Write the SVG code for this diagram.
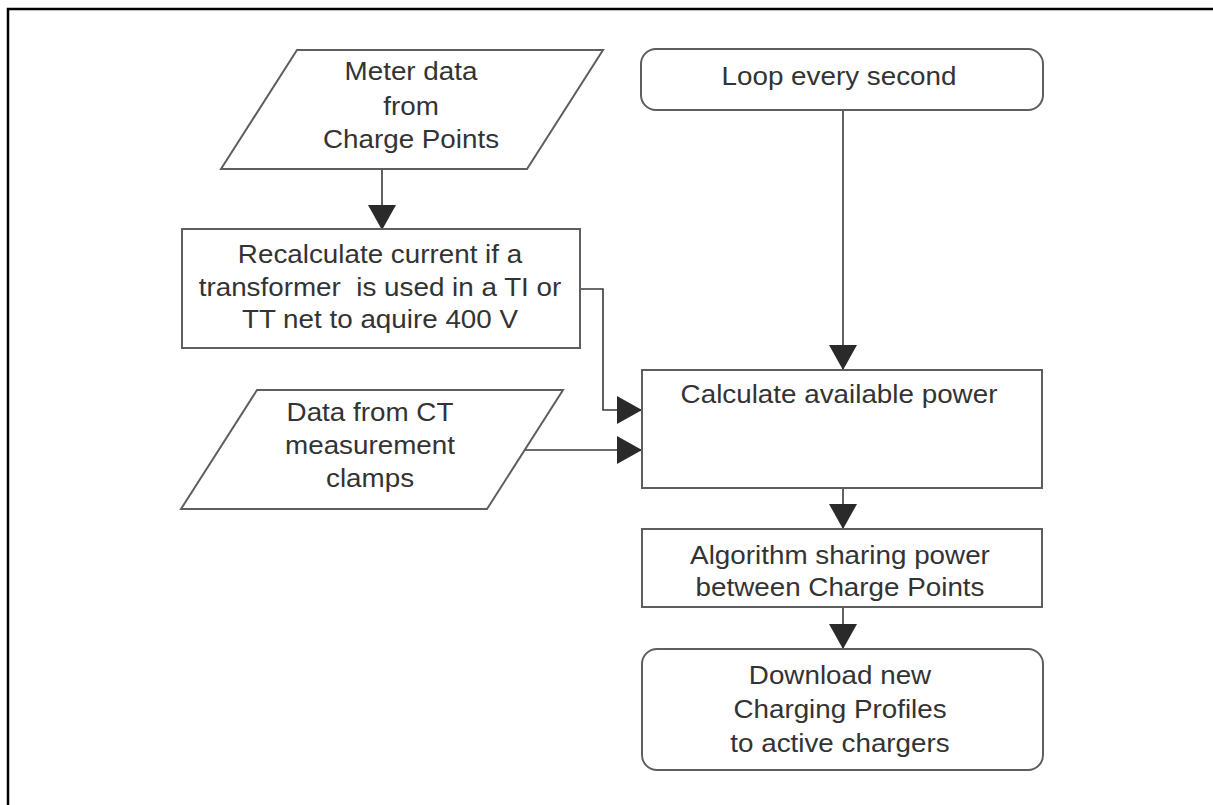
<svg xmlns="http://www.w3.org/2000/svg" width="1213" height="805" viewBox="0 0 1213 805">
  <style>
    .shape { fill: #ffffff; stroke: #5e5e5e; stroke-width: 2; }
    .lbl { font-family: "Liberation Sans", Arial, sans-serif; font-size: 26px; fill: #333333; text-anchor: middle; }
    .conn { fill: none; stroke: #3a3a3a; stroke-width: 1.6; }
  </style>
  <defs>
    <marker id="arrow" markerUnits="userSpaceOnUse" markerWidth="26" markerHeight="28" refX="25" refY="14" orient="auto">
      <path d="M0,0 L25,14 L0,28 Z" fill="#2a2a2a"/>
    </marker>
  </defs>

  <rect width="1213" height="805" fill="#ffffff"/>
  <!-- frame (left and top edges) -->
  <path d="M8,805 V9 H1213" fill="none" stroke="#000000" stroke-width="2.5"/>

  <g id="connectors">
    <path class="conn" d="M382,169 V230" marker-end="url(#arrow)"/>
    <path class="conn" d="M580,289 H603 V410 H642" marker-end="url(#arrow)"/>
    <path class="conn" d="M525,450 H642" marker-end="url(#arrow)"/>
    <path class="conn" d="M843,110 V370" marker-end="url(#arrow)"/>
    <path class="conn" d="M843,488 V529" marker-end="url(#arrow)"/>
    <path class="conn" d="M843,607 V649" marker-end="url(#arrow)"/>
  </g>

  <g id="meter-data">
    <polygon class="shape" points="297,50 603,50 527,169 221,169"/>
    <g transform="translate(411 0) scale(1.07 1)">
      <text class="lbl" x="0" y="80">Meter data</text>
      <text class="lbl" x="0" y="115">from</text>
      <text class="lbl" x="0" y="148">Charge Points</text>
    </g>
  </g>

  <g id="recalculate">
    <rect class="shape" x="182" y="229" width="398" height="119"/>
    <g transform="translate(380 0) scale(1.07 1)">
      <text class="lbl" x="0" y="263">Recalculate current if a</text>
      <text class="lbl" x="0" y="296" xml:space="preserve">transformer  is used in a TI or</text>
      <text class="lbl" x="0" y="328">TT net to aquire 400 V</text>
    </g>
  </g>

  <g id="ct-data">
    <polygon class="shape" points="257,390 563,390 487,509 181,509"/>
    <g transform="translate(370 0) scale(1.07 1)">
      <text class="lbl" x="0" y="421">Data from CT</text>
      <text class="lbl" x="0" y="454">measurement</text>
      <text class="lbl" x="0" y="487">clamps</text>
    </g>
  </g>

  <g id="loop">
    <rect class="shape" x="641" y="49" width="402" height="61" rx="15" ry="15"/>
    <g transform="translate(839 0) scale(1.07 1)">
      <text class="lbl" x="0" y="85">Loop every second</text>
    </g>
  </g>

  <g id="calculate">
    <rect class="shape" x="642" y="370" width="400" height="118"/>
    <g transform="translate(839 0) scale(1.07 1)">
      <text class="lbl" x="0" y="403">Calculate available power</text>
    </g>
  </g>

  <g id="algorithm">
    <rect class="shape" x="642" y="529" width="400" height="78"/>
    <g transform="translate(840 0) scale(1.07 1)">
      <text class="lbl" x="0" y="564">Algorithm sharing power</text>
      <text class="lbl" x="0" y="596">between Charge Points</text>
    </g>
  </g>

  <g id="download">
    <rect class="shape" x="642" y="649" width="401" height="121" rx="15" ry="15"/>
    <g transform="translate(840 0) scale(1.07 1)">
      <text class="lbl" x="0" y="684">Download new</text>
      <text class="lbl" x="0" y="718">Charging Profiles</text>
      <text class="lbl" x="0" y="752">to active chargers</text>
    </g>
  </g>
</svg>
